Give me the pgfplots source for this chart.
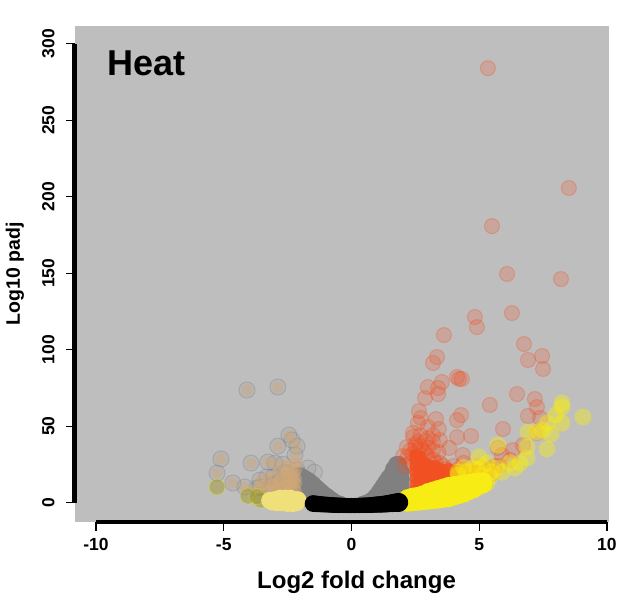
\documentclass[border=0pt]{standalone}
\usepackage{pgfplots}
\pgfplotsset{compat=1.18}
\usepackage{fontspec}
\setmainfont{Liberation Sans}
\definecolor{panel}{HTML}{BEBEBE}
\definecolor{greyd}{HTML}{808080}
\definecolor{org}{HTML}{F25022}
\definecolor{yel}{HTML}{F7EC13}
\definecolor{pale}{HTML}{F0E07A}
\definecolor{tan}{HTML}{D0A878}
\begin{document}
\begin{tikzpicture}[x=1pt,y=1pt]
\useasboundingbox (0,0) rectangle (621,602);
\begin{axis}[
  at={(75pt,80pt)}, anchor=south west,
  scale only axis, width=534pt, height=496pt,
  xmin=-10.82, xmax=10.08, ymin=-12.6, ymax=311.6,
  axis background/.style={fill=panel},
  axis line style={draw=none},
  axis x line*=bottom, axis y line*=left,
  tick align=outside, tick style={black, line width=1.2pt},
  major tick length=9pt,
  xtick={-10,-5,0,5,10}, xticklabels={-10,-5,0,5,10},
  ytick={0,50,100,150,200,250,300}, yticklabels={0,50,100,150,200,250,300},
  tick label style={font=\fontsize{17.5}{19}\selectfont\bfseries},
  xticklabel style={yshift=-4pt},
  yticklabel style={rotate=90, anchor=south, yshift=8pt},
  xlabel={Log2 fold change}, ylabel={Log10 padj},
  xlabel style={font=\fontsize{24}{26}\selectfont\bfseries, at={(axis cs:0.2,-12.6)}, anchor=center, yshift=-60pt},
  ylabel style={font=\fontsize{19.5}{24}\selectfont\bfseries, at={(axis description cs:0,0.5)}, anchor=center, yshift=60pt},
  clip=true, clip mode=individual,
]
% dense orange
\addplot[only marks, mark=*, mark size=6pt, mark options={draw opacity=0, fill=org, fill opacity=0.85}] coordinates {
(2.5,8)(2.5,12)(2.5,16)(2.5,20)(2.5,24)(2.5,28)(2.5,31)
(2.7,8)(2.7,12)(2.7,16)(2.7,20)(2.7,24)(2.7,28)(2.7,30)
(2.9,8)(2.9,12)(2.9,16)(2.9,20)(2.9,24)(2.9,26)
(3.1,10)(3.1,14)(3.1,18)(3.1,22)(3.1,24)
(3.3,11)(3.3,15)(3.3,19)(3.3,24)
(3.5,12)(3.5,16)(3.5,19)(3.5,22)
(3.8,14)(3.8,18)(3.8,22)
(4.1,16)(4.1,19)(4.1,21)
(4.4,18)(4.4,20)(4.7,20)(4.9,21)
};
% dense grey, right and left arms
\addplot[only marks, mark=*, mark size=8.5pt, mark options={draw opacity=0, fill=greyd}] coordinates {
(0.45,-1)(0.55,-0.5)(0.65,0)(0.75,1)(0.85,2)(0.95,4)(1.05,6)(1.15,8.5)(1.25,11)(1.35,13.5)
(1.45,16)(1.55,18)(1.65,22)(1.77,25)(1.85,25)(1.95,20)
(1.0,1)(1.2,3)(1.4,3)(1.4,9)(1.6,3)(1.6,9)(1.6,15)(1.8,3)(1.8,9)(1.8,15)(1.8,20)(1.95,5)(1.95,10)(1.95,15)
(-0.45,-1)(-0.55,-0.5)(-0.65,0)(-0.75,1.5)(-0.85,2.5)(-0.95,4)(-1.05,5)(-1.15,6.5)(-1.25,8)(-1.35,9.5)(-1.45,11)
(-1.55,12.5)(-1.65,14)(-1.75,15)(-1.85,16)(-1.95,17)(-2.05,18)
(-1.0,1)(-1.2,2)(-1.4,4)(-1.6,3)(-1.6,8)(-1.8,3)(-1.8,8)(-1.8,12)(-2.0,3)(-2.0,8)(-2.0,13)
};
% orange isolated points
\addplot[only marks, mark=*, mark size=7.5pt, mark options={draw=org, draw opacity=0.3, line width=1pt, fill=org, fill opacity=0.22}] coordinates {
(5.34,284)(8.51,205.7)(5.50,180.8)(6.09,149.5)(8.20,146.2)
(4.83,121.4)(6.28,124)(4.91,114.8)(3.62,109.6)(6.75,103.7)(3.35,95.2)(3.19,91.3)
(7.46,95.9)(6.91,93.3)(7.50,87.4)(4.13,82.2)(4.32,80.9)(4.21,80.9)(2.99,75.6)(3.54,78.9)
(3.39,75)(3.39,71)(2.88,68.4)(6.48,71)(7.18,67.8)(5.42,63.9)(7.26,62.5)(6.91,56.7)
(2.64,59.9)(3.31,54.7)(4.29,57.3)(4.13,54)(2.72,55.4)(7.38,55.4)(2.60,52.1)(2.99,49.5)
(3.42,48.2)(5.93,48.2)(2.41,45.6)(3.19,44.2)(4.68,43.6)(4.13,42.9)(2.41,42.9)(3.46,41)
(3.19,39.7)(3.82,35.8)(2.17,36.4)(3.19,34.4)(5.73,35.8)(6.32,34.4)(7.26,45.6)(6.71,37.7)
(4.36,31.2)(2.02,30.5)(3.46,26)(5.89,31.2)(2.9,40)(2.7,44)(3.0,36)(2.5,38)(2.8,34)(3.4,33)
(4.4,26)(5.0,24)(5.4,22)(5.8,24)(6.2,28)
(2.2,30)(2.3,34)(2.4,32)(2.5,36)(2.6,34)(2.7,37)(2.9,32)(3.0,30)(3.2,28)(3.3,26)(3.6,24)(3.0,42)(2.6,40)(2.3,26)(2.1,24)
(3.7,22)(4.0,24)(4.2,22)(4.6,20)(5.1,18)(5.3,20)(5.5,19)(5.6,24)(4.8,18)
};
% yellow dense
\addplot[only marks, mark=*, mark size=9pt, mark options={draw opacity=0, fill=yel}] coordinates {
(2.2,0)(2.2,3)(2.4,0.3)(2.4,4)(2.6,0.6)(2.6,4.5)(2.8,1)(2.8,3)(2.8,5.5)
(3.0,1.3)(3.0,4)(3.0,7)(3.2,1.7)(3.2,5)(3.2,8)(3.4,2)(3.4,5)(3.4,9)
(3.6,2.6)(3.6,6)(3.6,10)(3.8,3)(3.8,7)(3.8,11)(4.0,4)(4.0,8)(4.0,11.5)
(4.2,5)(4.2,9)(4.2,12)(4.4,6)(4.4,9)(4.4,12.5)
(4.6,7.5)(4.6,10)(4.6,13)(4.8,9)(4.8,11)(4.8,13.5)
(5.0,11)(5.0,14)(5.15,12)(5.15,14)
};
% yellow isolated points
\addplot[only marks, mark=*, mark size=8.5pt, mark options={draw opacity=0, fill=yel, fill opacity=0.42}] coordinates {
(5.73,37.7)(4.99,29.9)(8.24,65.2)(8.24,62.5)(8.0,57.3)(9.06,56)(8.24,52.1)(7.65,52)
(7.50,47.5)(6.91,46.2)(7.81,44.9)(7.26,46.2)(7.65,35.1)(6.87,36.4)(6.87,29.2)(6.60,25.9)
(6.40,22.6)(5.89,20)(6.20,25.9)(5.30,25.9)(4.76,22.6)(4.17,20)(4.17,18)(5.42,16.8)
(5.30,12.9)(5.70,22.6)(4.5,20)(4.9,22)(5.1,24)(4.4,23)(5.5,20)(5.1,18)
};
% left: grey circles
\addplot[only marks, mark=*, mark size=8pt, mark options={draw=greyd, draw opacity=0.35, line width=1pt, fill=greyd, fill opacity=0.12}] coordinates {
(-4.09,73.7)(-2.88,75.6)(-5.11,28.6)(-5.26,19.4)(-3.93,25.9)(-4.64,12.9)(-4.17,10.3)
(-2.88,37)(-2.45,44.2)(-2.33,41)(-2.13,37)(-2.21,31.2)(-3.27,26.6)(-2.99,25.9)(-2.68,25.2)
(-1.70,22.7)(-1.45,20)(-3.31,16.8)(-3.58,14.8)(-3.07,16.8)(-2.52,19.4)(-2.13,21.4)(-2.29,16.1)
(-2.80,14.8)(-2.13,12.9)(-2.52,11.6)(-3.07,11.6)(-3.58,10.3)(-3.70,9.6)(-2.6,20)(-2.9,13)(-2.3,9)(-3.2,10)(-2.7,9)
};
% left: tan centres
\addplot[only marks, mark=*, mark size=5.5pt, mark options={draw opacity=0, fill=tan, fill opacity=0.45}] coordinates {
(-4.09,73.7)(-2.88,75.6)(-5.11,28.6)(-5.26,19.4)(-3.93,25.9)(-4.64,12.9)(-4.17,10.3)
(-2.88,37)(-2.45,44.2)(-2.33,41)(-2.13,37)(-2.21,31.2)(-3.27,26.6)(-2.99,25.9)(-2.68,25.2)
(-3.31,16.8)(-3.58,14.8)(-3.07,16.8)(-2.52,19.4)(-2.13,21.4)(-2.29,16.1)
(-2.80,14.8)(-2.13,12.9)(-2.52,11.6)(-3.07,11.6)(-3.58,10.3)(-3.70,9.6)
(-2.3,26)(-2.5,24)(-2.7,20)(-2.9,20)(-2.3,22)(-2.1,26)(-2.4,14)(-2.6,15)(-2.2,10)(-2.4,9)(-2.7,10)(-2.9,10)(-3.2,9)(-3.4,12)
(-2.2,19)(-2.35,12)(-2.5,8)(-2.15,16)(-2.3,18)(-2.5,12)(-2.7,14)(-2.9,13)(-3.1,13)(-2.2,14)(-2.4,20)(-2.6,20)(-2.8,10)(-3.0,9)(-2.3,10)(-2.5,16)(-2.15,8)(-3.3,10)
};
% left: olive and pale points
\addplot[only marks, mark=*, mark size=8pt, mark options={draw=yel, draw opacity=0.3, line width=1pt, fill=olive!75!panel, fill opacity=0.45}] coordinates {
(-5.26,10.3)(-4.05,4.4)(-3.54,1.8)(-3.7,4)
};
\addplot[only marks, mark=*, mark size=8.5pt, mark options={draw opacity=0, fill=pale}] coordinates {
(-3.2,1.5)(-3.1,0.5)(-3.0,2)(-2.9,0)(-2.8,3)(-2.7,0)(-2.6,3)(-2.5,-0.5)(-2.4,3)(-2.3,-0.5)(-2.25,2)(-2.15,0)(-2.1,2)
(-3.0,0.5)(-2.7,2)(-2.5,2)
};
% black band: x, y, radius of the point
\addplot[scatter, only marks, mark=*,
  scatter/use mapped color={draw opacity=0, fill=black},
  visualization depends on={\thisrow{r} \as \rad},
  scatter/@pre marker code/.append style={/tikz/mark size=\rad}]
table {
x y r
-1.5 -0.55 8.4
-1.4 -0.7 8.3
-1.3 -0.85 8.2
-1.2 -1.0 8.1
-1.1 -1.1 8.0
-1.0 -1.2 8.0
-0.9 -1.3 7.9
-0.8 -1.4 7.9
-0.7 -1.55 7.9
-0.6 -1.6 7.8
-0.5 -1.65 7.8
-0.4 -1.7 7.7
-0.3 -1.75 7.7
-0.2 -1.8 7.6
-0.1 -1.85 7.6
0.0 -1.85 7.6
0.1 -1.85 7.6
0.2 -1.8 7.6
0.3 -1.75 7.7
0.4 -1.7 7.7
0.5 -1.65 7.8
0.6 -1.6 7.8
0.7 -1.55 7.9
0.8 -1.45 8.0
0.9 -1.3 8.1
1.0 -1.2 8.2
1.1 -1.1 8.3
1.2 -1.0 8.4
1.3 -0.85 8.5
1.4 -0.65 8.7
1.5 -0.45 8.8
1.6 -0.25 9.0
1.7 -0.05 9.2
1.8 0.1 9.4
1.85 0.2 9.5
};
% axis lines (offset R style)
\addplot[black, line width=5pt, forget plot, clip=false] coordinates {(-10.82,0)(-10.82,300)};
\addplot[black, line width=4.5pt, forget plot, clip=false] coordinates {(-10,-12.6)(10,-12.6)};
\node[anchor=base west, font=\fontsize{36}{38}\selectfont\bfseries] at (axis cs:-9.68,279) {Heat};
\end{axis}
\end{tikzpicture}
\end{document}
